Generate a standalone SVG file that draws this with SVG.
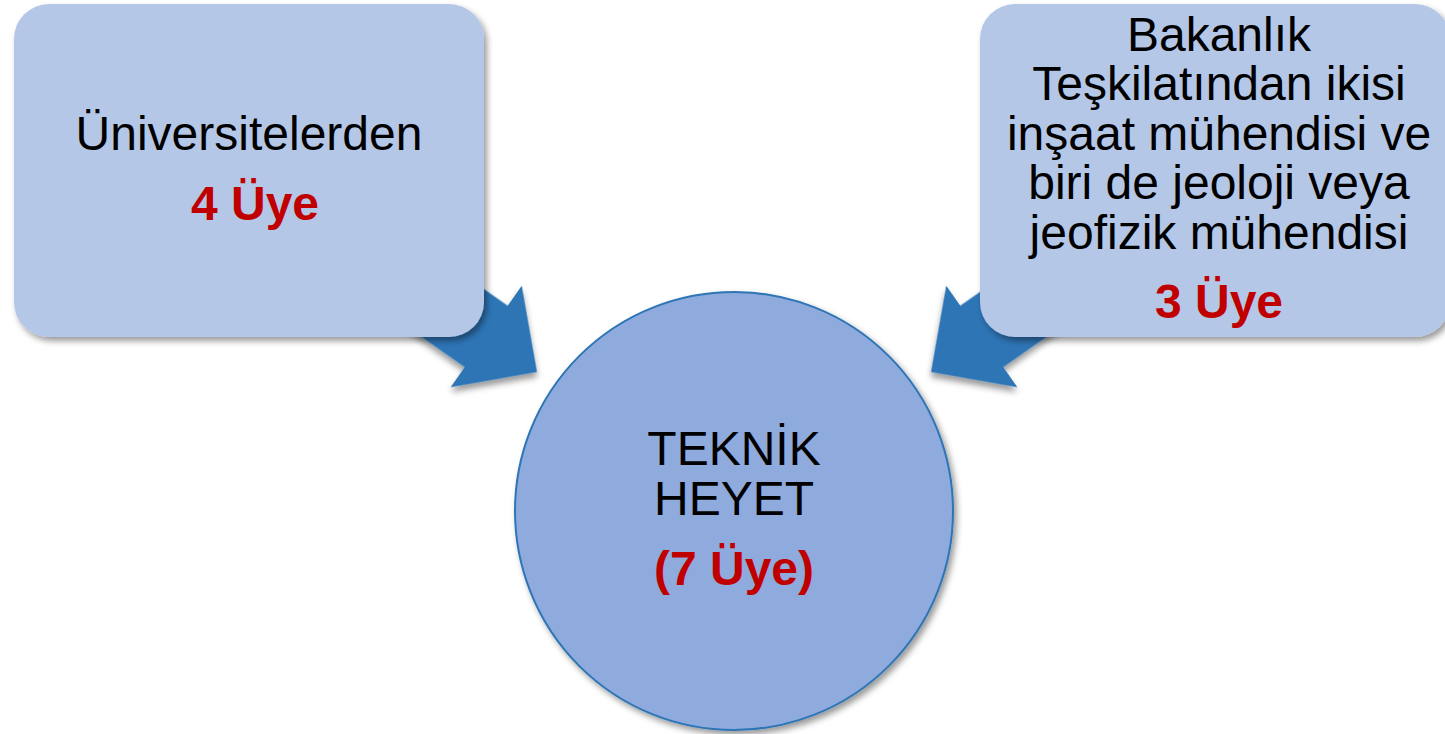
<svg xmlns="http://www.w3.org/2000/svg" width="1445" height="734" viewBox="0 0 1445 734">
<defs>
<style>
.box{fill:#B4C7E7;filter:url(#sh);}
.arrow{fill:#2E75B6;filter:url(#sh);}
.t{font-family:"Liberation Sans",Arial,sans-serif;font-size:48px;fill:#000;text-anchor:middle;}
.r{font-family:"Liberation Sans",Arial,sans-serif;font-size:48px;font-weight:bold;fill:#C00000;text-anchor:middle;}
</style>
<filter id="sh" x="-10%" y="-10%" width="125%" height="125%">
<feDropShadow dx="3" dy="4" stdDeviation="3" flood-color="#000" flood-opacity="0.4"/>
</filter>
<path id="arr" d="M0,0 L-62,-62 L-62,-37.5 L-230,-37.5 L-230,37.5 L-62,37.5 L-62,62 Z"/>
</defs>
<rect width="1445" height="734" fill="#fff"/>
<g id="connectors">
<use href="#arr" class="arrow" transform="translate(537,372) rotate(35)"/>
<use href="#arr" class="arrow" transform="translate(931,372) scale(-1,1) rotate(35)"/>
</g>
<g id="node-universiteler">
<rect class="box" x="14" y="4" width="470" height="333" rx="35" ry="35"/>
<text class="t" x="249" y="150">Üniversitelerden</text>
<text class="r" x="255" y="220">4 Üye</text>
</g>
<g id="node-bakanlik">
<rect class="box" x="980" y="4" width="470" height="333" rx="35" ry="35"/>
<text class="t" x="1219" y="51">Bakanlık</text>
<text class="t" x="1219" y="100">Teşkilatından ikisi</text>
<text class="t" x="1219" y="150">inşaat mühendisi ve</text>
<text class="t" x="1219" y="199">biri de jeoloji veya</text>
<text class="t" x="1219" y="249">jeofizik mühendisi</text>
<text class="r" x="1219" y="318">3 Üye</text>
</g>
<g id="node-teknik-heyet">
<circle cx="734" cy="511" r="219" fill="#8FAADC" stroke="#2E75B6" stroke-width="2" filter="url(#sh)"/>
<text class="t" x="734" y="465">TEKNİK</text>
<text class="t" x="734" y="515">HEYET</text>
<text class="r" x="734" y="585">(7 Üye)</text>
</g>
</svg>
